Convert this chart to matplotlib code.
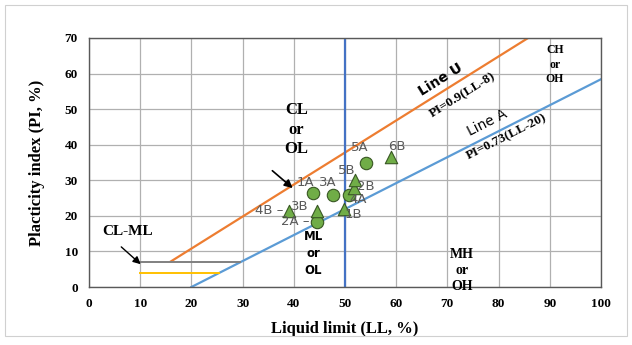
import numpy as np
import matplotlib
matplotlib.use('Agg')
import matplotlib.pyplot as plt
from matplotlib.patches import Rectangle

# samples: circles (A) and triangles (B)
a_names = ['1A', '2A', '3A', '4A', '5A']
a_ll = [43.8, 44.5, 47.7, 50.8, 54.1]
a_pi = [26.4, 18.3, 25.9, 25.9, 34.9]

b_names = ['1B', '2B', '3B', '4B', '5B', '6B']
b_ll = [49.8, 51.8, 44.5, 39.1, 52.0, 59.0]
b_pi = [21.9, 27.8, 21.4, 21.4, 30.1, 36.5]

ll_ticks = list(range(0, 101, 10))
pi_ticks = list(range(0, 71, 10))

# label offsets in pixels (dx, dy) and alignment
offs = {
    '1A': (-8, 11, 'center'), '3A': (-5, 12, 'center'), '4A': (9, -5, 'center'),
    '5A': (-6, 15, 'center'), '2A': (-7, 0, 'right'),
    '1B': (9, -5, 'center'), '2B': (12, 2, 'center'), '3B': (-17, 4, 'center'),
    '4B': (-6, 0, 'right'), '5B': (-8, 9, 'center'), '6B': (6, 11, 'center'),
}

fig = plt.figure(figsize=(6.32, 3.45), dpi=100, facecolor='white')
ax = fig.add_axes([0.1408, 0.168, 0.8101, 0.722])
fig.patches.append(Rectangle((0.008, 0.025), 0.984, 0.96, transform=fig.transFigure,
                             fill=False, edgecolor='#d0d0d0', lw=0.8))

ax.set_xlim(0, 100)
ax.set_ylim(0, 70)
ax.set_xticks(ll_ticks)
ax.set_yticks(pi_ticks)
ax.grid(color='#b0b0b0', lw=0.9)
ax.set_axisbelow(True)
for s in ax.spines.values():
    s.set_color('#595959')
    s.set_linewidth(1.0)
ax.tick_params(length=0, pad=8)
serif = 'Liberation Serif'
for t in ax.get_xticklabels() + ax.get_yticklabels():
    t.set_fontfamily(serif)
    t.set_fontweight('bold')
    t.set_fontsize(9.5)
ax.set_xlabel('Liquid limit (LL, %)', fontfamily=serif, fontweight='bold', fontsize=12, labelpad=8)
ax.set_ylabel('Placticity index (PI, %)', fontfamily=serif, fontweight='bold', fontsize=12, labelpad=14)

# U line, A line, LL=50
u_x = np.array([16, 70 / 0.9 + 8])
ax.plot(u_x, 0.9 * (u_x - 8), color='#ED7D31', lw=1.6)
a_x = np.array([20, 100])
ax.plot(a_x, 0.73 * (a_x - 20), color='#5B9BD5', lw=1.6)
ax.plot([50, 50], [0, 70], color='#4472C4', lw=1.6)
ax.plot([10, 7 / 0.73 + 20], [7, 7], color='#808080', lw=1.4)
ax.plot([10, 4 / 0.73 + 20], [4, 4], color='#FFC000', lw=1.4)

ax.scatter(a_ll, a_pi, s=80, marker='o', color='#70AD47', edgecolor='#385723', lw=0.8, zorder=5)
ax.scatter(b_ll, b_pi, s=80, marker='^', color='#70AD47', edgecolor='#385723', lw=0.8, zorder=5)

for names, xs, ys in [(a_names, a_ll, a_pi), (b_names, b_ll, b_pi)]:
    for n, x, y in zip(names, xs, ys):
        dx, dy, ha = offs[n]
        txt = n + ' \u2013' if ha == 'right' else n
        ax.annotate(txt, (x, y), xytext=(dx, dy), textcoords='offset pixels',
                    ha=ha, va='center', fontsize=9.5, color='#595959', zorder=6)

# zone labels
ax.text(40.5, 44.2, 'CL\nor\nOL', ha='center', va='center', fontfamily=serif,
        fontweight='bold', fontsize=12, linespacing=1.3)
ax.annotate('', xy=(40.2, 27.3), xytext=(35.4, 33.2),
            arrowprops=dict(arrowstyle='-|>', color='black', lw=1.2, mutation_scale=12))
ax.text(7.6, 15.5, 'CL-ML', ha='center', va='center', fontfamily=serif,
        fontweight='bold', fontsize=11)
ax.annotate('', xy=(10.5, 5.9), xytext=(5.9, 11.8),
            arrowprops=dict(arrowstyle='-|>', color='black', lw=1.0, mutation_scale=11))
ax.text(43.8, 9.5, 'ML\nor\nOL', ha='center', va='center', fontweight='bold',
        fontsize=8.5, linespacing=1.4)
ax.text(72.8, 4.7, 'MH\nor\nOH', ha='center', va='center', fontfamily=serif,
        fontweight='bold', fontsize=10, linespacing=1.3)
ax.text(91, 62.5, 'CH\nor\nOH', ha='center', va='center', fontfamily=serif,
        fontweight='bold', fontsize=8.5, linespacing=1.3)

ang_u = ax.transData.transform_angles([np.degrees(np.arctan(0.9))], np.array([[70, 50]]))[0]
ang_a = ax.transData.transform_angles([np.degrees(np.arctan(0.73))], np.array([[80, 40]]))[0]
ax.text(68.6, 58.2, 'Line U', rotation=ang_u, rotation_mode='anchor', ha='center', va='center',
        fontsize=10, fontweight='bold')
ax.text(73, 54, 'PI=0.9(LL-8)', rotation=ang_u, rotation_mode='anchor', ha='center', va='center',
        fontfamily=serif, fontweight='bold', fontsize=9.5)
ax.text(77.7, 46.1, 'Line A', rotation=ang_a, rotation_mode='anchor', ha='center', va='center',
        fontsize=10)
ax.text(81.6, 42.2, 'PI=0.73(LL-20)', rotation=ang_a, rotation_mode='anchor', ha='center', va='center',
        fontfamily=serif, fontweight='bold', fontsize=9.5)

fig.savefig('out.png', dpi=100)
